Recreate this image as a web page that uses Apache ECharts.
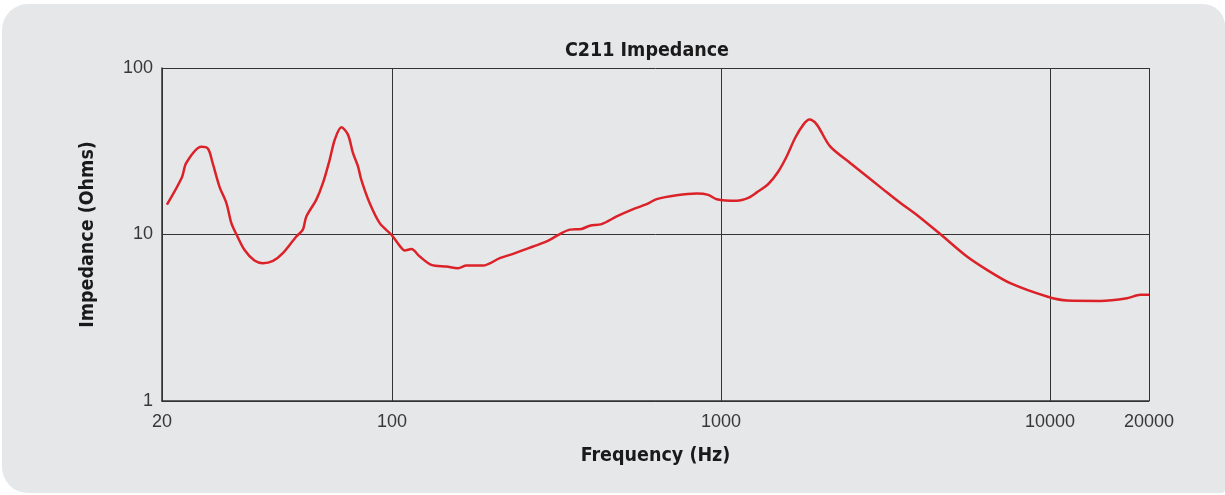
<!DOCTYPE html>
<html>
<head>
<meta charset="utf-8">
<title>C211 Impedance</title>
<script src="https://cdn.jsdelivr.net/npm/echarts@6/dist/echarts.min.js"></script>
<style>
  html, body {
    margin: 0;
    padding: 0;
    background: #fff;
  }

  .panel {
    position: absolute;
    left: 2px;
    top: 4px;
    width: 1223px;
    height: 489px;
    background: #e6e7e9;
    border-radius: 26px 22px 4px 26px;
  }

  #chart {
    position: absolute;
    left: 0;
    top: 0;
    width: 1225px;
    height: 495px;
  }
</style>
</head>
<body>
<div class="panel"></div>
<div id="chart"></div>
<script>
// frequency (Hz)
const freqs = [
  20.7, 23.0, 23.7, 26.3, 27.6, 28.5, 29.9, 31.4, 32.5, 33.6,
  35.6, 38.2, 40.5, 43.5, 46.6, 51.2, 53.6, 54.9, 58.9, 61.7,
  64.7, 67.0, 70.2, 73.5, 76.1, 78.8, 80.7, 85.6, 91.8, 99.6,
  105.6, 109.4, 114.6, 121.5, 131.8, 146.4, 158.8, 168.5, 189.2, 212.7,
  233.5, 268.6, 295.1, 323.8, 347.3, 377.0, 399.6, 433.8, 481.8, 541.3,
  594.6, 637.7, 733.3, 843.8, 915.2, 970.5, 1117, 1211, 1285, 1393,
  1494, 1585, 1680, 1780, 1857, 1956, 2147, 2470, 3118, 3505,
  3940, 4639, 5593, 6434, 7573, 9795, 11270, 14230, 17160, 18830,
  20000
]

// impedance (Ohms) at each frequency
const ohms = [
  15.1, 22.1, 26.9, 33.6, 32.7, 26.9, 19.4, 15.4, 11.7, 10.1,
  8.09, 6.97, 6.73, 6.95, 7.73, 9.73, 10.7, 12.8, 16.2, 20.4,
  28.2, 37.1, 44.0, 39.8, 30.9, 25.7, 21.3, 15.4, 11.7, 9.96,
  8.55, 8.01, 8.17, 7.37, 6.57, 6.42, 6.28, 6.51, 6.51, 7.21,
  7.65, 8.47, 9.08, 10.06, 10.7, 10.8, 11.3, 11.55, 12.83, 14.2,
  15.2, 16.3, 17.2, 17.6, 17.3, 16.3, 15.95, 16.6, 17.9, 20.1,
  23.9, 29.5, 38.0, 45.7, 49.0, 45.7, 33.8, 26.9, 18.6, 15.5,
  13.1, 10.06, 7.37, 6.13, 5.10, 4.24, 4.01, 3.99, 4.14, 4.34,
  4.34
]

const titleFont = "'Liberation Sans Narrow', 'DejaVu Sans Condensed', sans-serif"
const labelFont = "'Liberation Sans', sans-serif"

const chart = echarts.init(document.getElementById('chart'))

chart.setOption({
  backgroundColor: 'transparent',
  animation: false,
  title: {
    text: 'C211 Impedance',
    left: 642,
    top: 36,
    textAlign: 'center',
    textStyle: {
      fontFamily: titleFont,
      fontWeight: 'bold',
      fontSize: 19.5,
      color: '#1a1a1a'
    }
  },
  grid: { left: 162, right: 76, top: 68, bottom: 94 },
  xAxis: {
    type: 'log',
    logBase: 10,
    min: 20,
    max: 20000,
    name: 'Frequency (Hz)',
    nameLocation: 'middle',
    nameGap: 45,
    nameTextStyle: {
      fontFamily: titleFont,
      fontWeight: 'bold',
      fontSize: 19.5,
      color: '#1a1a1a'
    },
    axisLine: { show: true, lineStyle: { color: '#333', width: 1.5 } },
    axisTick: { show: false },
    axisLabel: {
      margin: 12,
      fontFamily: labelFont,
      fontSize: 18,
      color: '#383838',
      formatter: v => String(Math.round(v))
    },
    splitLine: { show: true, lineStyle: { color: '#333', width: 1 } }
  },
  yAxis: {
    type: 'log',
    logBase: 10,
    min: 1,
    max: 100,
    name: 'Impedance (Ohms)',
    nameLocation: 'middle',
    nameGap: 64,
    nameTextStyle: {
      fontFamily: titleFont,
      fontWeight: 'bold',
      fontSize: 19.5,
      color: '#1a1a1a'
    },
    axisLine: { show: true, lineStyle: { color: '#333', width: 1.5 } },
    axisTick: { show: false },
    axisLabel: {
      margin: 9,
      fontFamily: labelFont,
      fontSize: 18,
      color: '#383838',
      formatter: v => String(Math.round(v))
    },
    splitLine: { show: true, lineStyle: { color: '#333', width: 1 } }
  },
  series: [{
    type: 'line',
    data: freqs.map((f, i) => [f, ohms[i]]),
    showSymbol: false,
    smooth: 0.3,
    lineStyle: { color: '#dc2229', width: 2.5 },
    z: 5
  }]
})
</script>
</body>
</html>
